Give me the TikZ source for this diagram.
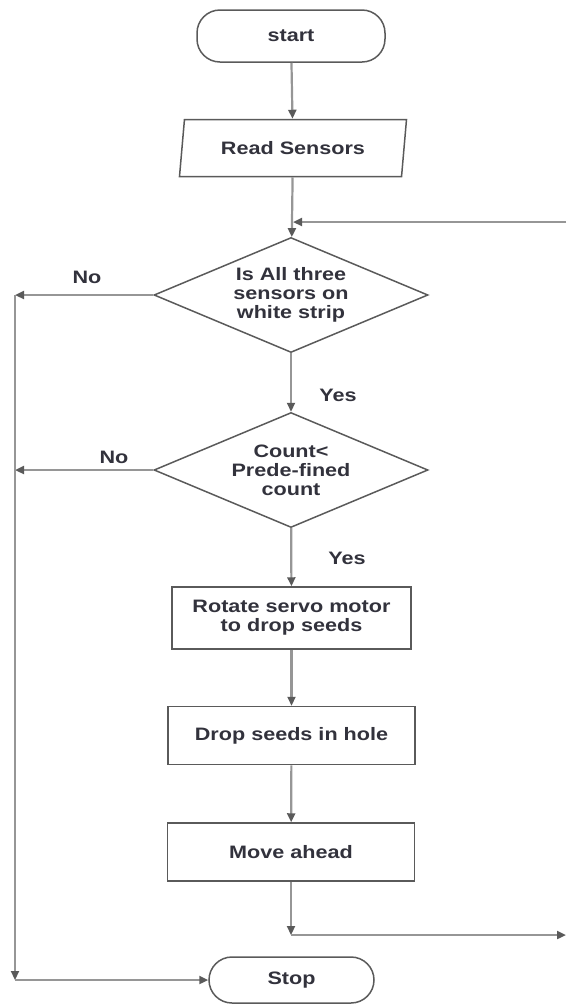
\documentclass[tikz,border=0pt]{standalone}
\usepackage{fontspec}
\setmainfont[FakeStretch=1.2]{Liberation Sans}
\usetikzlibrary{shapes.geometric,arrows.meta}
\definecolor{linegray}{RGB}{150,150,150}
\definecolor{edgegray}{RGB}{90,90,90}
\definecolor{textgray}{RGB}{50,50,60}
\begin{document}
\begin{tikzpicture}[x=1pt, y=-1pt,
    every node/.style={font=\fontsize{18}{19}\selectfont\bfseries, text=textgray, align=center},
    term/.style={draw=edgegray, line width=1.5pt, rectangle, rounded corners=23pt, minimum height=46pt},
    io/.style={draw=edgegray, line width=1.5pt, trapezium, trapezium left angle=76, trapezium right angle=104,
               trapezium stretches body, minimum width=227pt, minimum height=57pt},
    decision/.style={draw=edgegray, line width=1.5pt, diamond, aspect=2.38, inner sep=0pt,
                     minimum width=274pt, minimum height=115pt},
    process/.style={draw=edgegray, line width=1.5pt, rectangle, minimum width=247pt, minimum height=58pt},
    flow/.style={draw=linegray, line width=2.2pt, -{Triangle[length=9pt,width=8pt,color=edgegray]}}]
      \useasboundingbox (0,0) rectangle (566,1005);
      % main column
      \node[term, minimum width=188pt, minimum height=52pt] (start) at (291,36) {start};
      \node[io] (read) at (293,148) {Read Sensors};
      \node[decision] (check) at (291,295) {Is All three\\sensors on\\white strip};
      \node[decision] (count) at (291,470) {Count<\\Prede-fined\\count};
      \node[process, minimum width=239pt, minimum height=62pt] (servo) at (291.5,618) {Rotate servo motor\\to drop seeds};
      \node[process] (drop) at (291.5,735.5) {Drop seeds in hole};
      \node[process] (move) at (291,852) {Move ahead};
      \node[term, minimum width=165pt] (stop) at (291.5,980) {Stop};
      % labels
      \node (no1) at (87,277) {No};
      \node (no2) at (114,457) {No};
      \node (yes1) at (338,395) {Yes};
      \node (yes2) at (347,558) {Yes};
      % corner points
      \coordinate (loopin) at (566,222);
      \coordinate (join) at (293,222);
      \coordinate (back) at (291,935);
      \coordinate (loopout) at (566,935);
      \coordinate (topleft) at (15,295);
      \coordinate (midleft) at (15,470);
      \coordinate (botleft) at (15,980);
      \draw[flow] (start) -- (read);
      \draw[flow] (read) -- (check);
      \draw[flow] (loopin) -- (join);
      \draw[flow] (check) -- (count);
      \draw[flow] (count) -- (servo);
      \draw[flow] (servo) -- (drop);
      \draw[flow] (drop) -- (move);
      \draw[flow] (move) -- (back);
      \draw[flow] (back) -- (loopout);
      \draw[flow] (check.west) -- (topleft);
      \draw[flow] (count.west) -- (midleft);
      \draw[flow] (topleft) -- (botleft);
      \draw[flow] (botleft) -- (stop.west);
\end{tikzpicture}
\end{document}
